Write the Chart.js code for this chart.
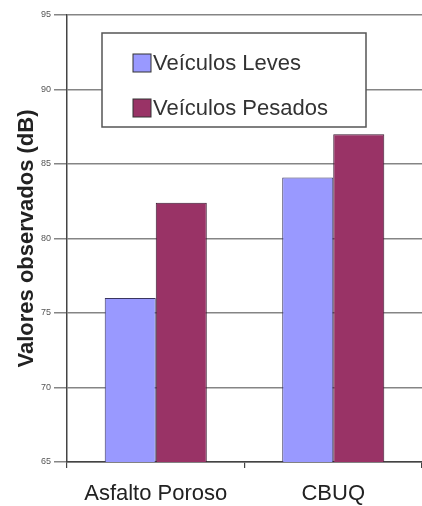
<!DOCTYPE html>
<html>
<head>
<meta charset="utf-8">
<script src="https://cdn.jsdelivr.net/npm/chart.js@4.4.1/dist/chart.umd.min.js"></script>
<style>
  html, body { margin: 0; padding: 0; background: #fff; }
  #wrap { width: 422px; height: 506px; }
</style>
</head>
<body>
<div id="wrap"><canvas id="noiseChart" width="422" height="506"></canvas></div>
<script>
// data
const categories = ["Asfalto Poroso", "CBUQ"];
const leves = [76.0, 84.1];
const pesados = [82.4, 87.0];
const seriesNames = ["Veículos Leves", "Veículos Pesados"];
const yTicks = [65, 70, 75, 80, 85, 90, 95];

// legend box drawn inside the plot, like the old spreadsheet chart
const boxLegend = {
  id: "boxLegend",
  afterDraw(chart) {
    const ctx = chart.ctx;
    const area = chart.chartArea;
    const x = area.left + 35, y = area.top + 18, w = 264, h = 94;
    ctx.save();
    ctx.fillStyle = "#fff";
    ctx.fillRect(x, y, w, h);
    ctx.strokeStyle = "#555";
    ctx.lineWidth = 1.5;
    ctx.strokeRect(x, y, w, h);
    ctx.font = "22px Arial, 'Liberation Sans', sans-serif";
    ctx.textBaseline = "middle";
    chart.data.datasets.forEach((ds, i) => {
      const cy = y + 30 + i * 45;
      ctx.fillStyle = ds.backgroundColor;
      ctx.fillRect(x + 31, cy - 9, 18, 18);
      ctx.strokeStyle = "#333";
      ctx.lineWidth = 1;
      ctx.strokeRect(x + 31, cy - 9, 18, 18);
      ctx.fillStyle = "#333";
      ctx.fillText(ds.label, x + 51, cy + 1);
    });
    ctx.restore();
  }
};

const ctx = document.getElementById("noiseChart").getContext("2d");
new Chart(ctx, {
  type: "bar",
  data: {
    labels: categories,
    datasets: [
      {
        label: seriesNames[0],
        data: leves,
        backgroundColor: "#9999ff",
        borderColor: "#3a3560",
        borderWidth: 1,
      },
      {
        label: seriesNames[1],
        data: pesados,
        backgroundColor: "#993366",
        borderColor: "#3a1a30",
        borderWidth: 1,
      },
    ],
  },
  options: {
    responsive: false,
    animation: false,
    layout: { padding: { top: 15, right: 0, left: 0, bottom: 0 } },
    categoryPercentage: 0.575,
    barPercentage: 1.0,
    plugins: {
      legend: { display: false },
      tooltip: { enabled: false },
    },
    scales: {
      x: {
        grid: { drawOnChartArea: false, offset: true, tickLength: 6, color: "#444", lineWidth: 1.2 },
        border: { color: "#444", width: 1.5 },
        ticks: {
          color: "#222",
          padding: 13,
          font: { family: "Arial, 'Liberation Sans', sans-serif", size: 22 },
        },
        afterFit: (s) => { s.height = 44; },
      },
      y: {
        min: 65,
        max: 95,
        afterBuildTicks: (s) => { s.ticks = yTicks.map((v) => ({ value: v })); },
        grid: { color: "#858585", lineWidth: 1.5, tickLength: 13 },
        border: { color: "#444", width: 1.5 },
        ticks: {
          color: "#555",
          padding: 3,
          font: { family: "Arial, 'Liberation Sans', sans-serif", size: 9 },
        },
        title: {
          display: true,
          text: "Valores observados (dB)",
          color: "#222",
          padding: { top: 14, bottom: 2 },
          font: { family: "Arial, 'Liberation Sans', sans-serif", size: 22, weight: "bold" },
        },
        afterFit: (s) => { s.width = 67; },
      },
    },
  },
  plugins: [boxLegend],
});
</script>
</body>
</html>
